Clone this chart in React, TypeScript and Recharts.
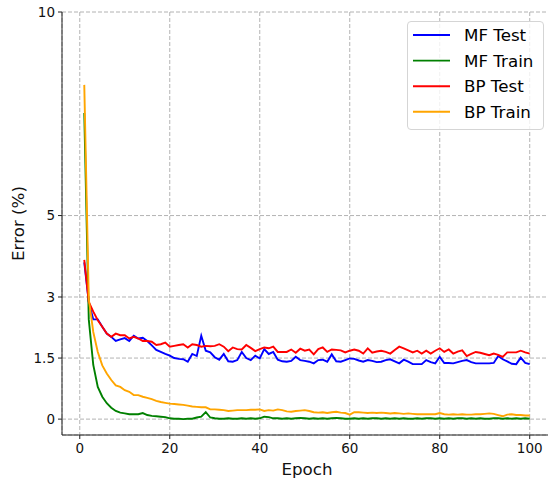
import React from 'react';
import { LineChart, Line, XAxis, YAxis, CartesianGrid } from 'recharts';

const epochs: number[] = Array.from({ length: 100 }, (_, i) => i + 1);

const mfTest: number[] = [
  3.85, 2.88, 2.45, 2.45, 2.27, 2.1, 2.02, 1.92, 1.96, 1.99,
  1.92, 2.05, 1.98, 2.0, 1.92, 1.81, 1.7, 1.65, 1.6, 1.56,
  1.5, 1.48, 1.47, 1.41, 1.6, 1.55, 2.05, 1.68, 1.64, 1.52,
  1.46, 1.6, 1.42, 1.41, 1.45, 1.65, 1.5, 1.45, 1.56, 1.49,
  1.72, 1.6, 1.65, 1.46, 1.42, 1.41, 1.43, 1.53, 1.45, 1.43,
  1.41, 1.37, 1.45, 1.46, 1.41, 1.59, 1.42, 1.41, 1.45, 1.49,
  1.48, 1.44, 1.41, 1.45, 1.43, 1.4, 1.41, 1.45, 1.47, 1.42,
  1.37, 1.46, 1.41, 1.35, 1.35, 1.35, 1.45, 1.4, 1.37, 1.53,
  1.38, 1.38, 1.37, 1.4, 1.43, 1.45, 1.4, 1.37, 1.37, 1.37,
  1.37, 1.38, 1.55, 1.47, 1.42, 1.36, 1.35, 1.51, 1.38, 1.35,
];

const mfTrain: number[] = [
  7.52, 2.45, 1.33, 0.79, 0.55, 0.39, 0.28, 0.2, 0.16, 0.14,
  0.12, 0.12, 0.12, 0.15, 0.1, 0.08, 0.07, 0.06, 0.05, 0.02,
  0.01, 0.01, 0.0, 0.01, 0.01, 0.04, 0.06, 0.17, 0.04, 0.02,
  0.01, 0.01, 0.02, 0.01, 0.01, 0.02, 0.01, 0.02, 0.01, 0.02,
  0.06, 0.05, 0.02, 0.02, 0.01, 0.02, 0.01, 0.02, 0.03, 0.02,
  0.01, 0.02, 0.01, 0.02, 0.01, 0.02, 0.03, 0.02, 0.01, 0.01,
  0.02, 0.01, 0.02, 0.01, 0.02, 0.02, 0.01, 0.02, 0.01, 0.02,
  0.01, 0.02, 0.01, 0.01, 0.02, 0.01, 0.02, 0.02, 0.01, 0.02,
  0.01, 0.02, 0.01, 0.02, 0.02, 0.01, 0.02, 0.01, 0.02, 0.01,
  0.01, 0.02, 0.02, 0.01, 0.02, 0.01, 0.02, 0.01, 0.02, 0.01,
];

const bpTest: number[] = [
  3.91, 2.88, 2.64, 2.43, 2.27, 2.1, 2.02, 2.1, 2.06, 2.06,
  1.98, 2.02, 1.98, 1.92, 1.92, 1.9, 1.82, 1.84, 1.88, 1.78,
  1.8, 1.82, 1.84, 1.76, 1.84, 1.82, 1.78, 1.8, 1.79, 1.8,
  1.84, 1.78, 1.67, 1.76, 1.72, 1.71, 1.82, 1.75, 1.67, 1.72,
  1.76, 1.74, 1.78, 1.65, 1.65, 1.65, 1.71, 1.63, 1.73, 1.68,
  1.71, 1.59, 1.72, 1.76, 1.65, 1.71, 1.7, 1.69, 1.64, 1.68,
  1.71, 1.68, 1.61, 1.74, 1.63, 1.66, 1.68, 1.65, 1.61, 1.7,
  1.78, 1.74, 1.69, 1.64, 1.68, 1.61, 1.68, 1.61, 1.68, 1.74,
  1.65, 1.71, 1.61, 1.66, 1.69, 1.55, 1.6, 1.65, 1.63, 1.6,
  1.57, 1.61, 1.58, 1.53, 1.64, 1.64, 1.64, 1.68, 1.64, 1.61,
];

const bpTrain: number[] = [
  8.21, 2.95, 2.14, 1.65, 1.32, 1.12, 0.96, 0.83, 0.79, 0.71,
  0.67, 0.59, 0.59, 0.55, 0.52, 0.49, 0.45, 0.42, 0.4, 0.38,
  0.37, 0.36, 0.35, 0.33, 0.31, 0.3, 0.29, 0.29, 0.24, 0.24,
  0.23, 0.22, 0.2, 0.21, 0.22, 0.22, 0.22, 0.23, 0.23, 0.24,
  0.2, 0.22, 0.21, 0.24, 0.22, 0.19, 0.18, 0.2, 0.21, 0.22,
  0.2, 0.17, 0.16, 0.17, 0.15, 0.17, 0.18, 0.16, 0.15, 0.11,
  0.17, 0.17, 0.16, 0.15, 0.16, 0.15, 0.16, 0.15, 0.14, 0.15,
  0.14, 0.13, 0.14, 0.13, 0.12, 0.12, 0.12, 0.12, 0.12, 0.15,
  0.12, 0.11, 0.12, 0.11, 0.12, 0.11, 0.11, 0.12, 0.12, 0.13,
  0.14, 0.13, 0.1, 0.07, 0.11, 0.12, 0.1, 0.1, 0.09, 0.09,
];

const xTicks: number[] = [0, 20, 40, 60, 80, 100];
const yTicks: number[] = [0, 1.5, 3, 5, 10];

const seriesNames = ['MF Test', 'MF Train', 'BP Test', 'BP Train'];
const seriesKeys = ['mfTest', 'mfTrain', 'bpTest', 'bpTrain'];
const seriesColors = ['#0000ff', '#008000', '#ff0000', '#ffa500'];

const data = epochs.map((e, i) => ({
  epoch: e,
  mfTest: mfTest[i],
  mfTrain: mfTrain[i],
  bpTest: bpTest[i],
  bpTrain: bpTrain[i],
}));

const FONT = 'DejaVu Sans';

const LegendBox = () => (
  <div
    style={{
      position: 'absolute',
      left: 407,
      top: 21,
      width: 137,
      height: 109,
      boxSizing: 'border-box',
      border: '1px solid #d5d5d5',
      borderRadius: 4,
      background: 'rgba(255,255,255,0.8)',
    }}
  >
    <svg width={135} height={107} style={{ display: 'block' }}>
      {seriesNames.map((n, i) => {
        const cy = 13 + 25.6 * i;
        return (
          <g key={n}>
            <line x1={5} x2={42} y1={cy} y2={cy} stroke={seriesColors[i]} strokeWidth={1.9} />
            <text x={56} y={cy + 6} fontFamily={FONT} fontSize={16.7} fill="#000">
              {n}
            </text>
          </g>
        );
      })}
    </svg>
  </div>
);

export default function App() {
  return (
    <div
      style={{
        position: 'absolute',
        left: 0,
        top: 0,
        width: 548,
        height: 482,
        overflow: 'hidden',
        background: '#fff',
      }}
    >
      <LineChart
        width={560}
        height={482}
        data={data}
        margin={{ top: 12, right: 8, left: 0, bottom: 0 }}
      >
        <CartesianGrid stroke="#a0a0a0" strokeDasharray="4 2" strokeWidth={0.8} />
        <XAxis
          dataKey="epoch"
          type="number"
          domain={[-3.95, 104.95]}
          ticks={xTicks}
          allowDataOverflow
          height={47}
          tickSize={4}
          tickMargin={4}
          stroke="#222"
          tick={{ fontFamily: FONT, fontSize: 13.5, fill: '#111' }}
          label={{
            value: 'Epoch',
            position: 'insideBottom',
            offset: 7,
            style: { fontFamily: FONT, fontSize: 16.7, fill: '#111' },
          }}
        />
        <XAxis
          xAxisId="top"
          orientation="top"
          dataKey="epoch"
          type="number"
          domain={[-3.95, 104.95]}
          height={0}
          tick={false}
          tickLine={false}
          stroke="#222"
        />
        <YAxis
          type="number"
          domain={[-0.39, 10]}
          ticks={yTicks}
          allowDataOverflow
          width={62}
          tickSize={4}
          tickMargin={3}
          stroke="#222"
          tick={{ fontFamily: FONT, fontSize: 13.5, fill: '#111' }}
          label={{
            value: 'Error (%)',
            angle: -90,
            position: 'insideLeft',
            offset: 18.5,
            style: { fontFamily: FONT, fontSize: 16.7, fill: '#111', textAnchor: 'middle' },
          }}
        />
        {seriesKeys.map((k, i) => (
          <Line
            key={k}
            dataKey={k}
            name={seriesNames[i]}
            stroke={seriesColors[i]}
            strokeWidth={1.9}
            dot={false}
            activeDot={false}
            type="linear"
            isAnimationActive={false}
          />
        ))}
      </LineChart>
      <LegendBox />
    </div>
  );
}
